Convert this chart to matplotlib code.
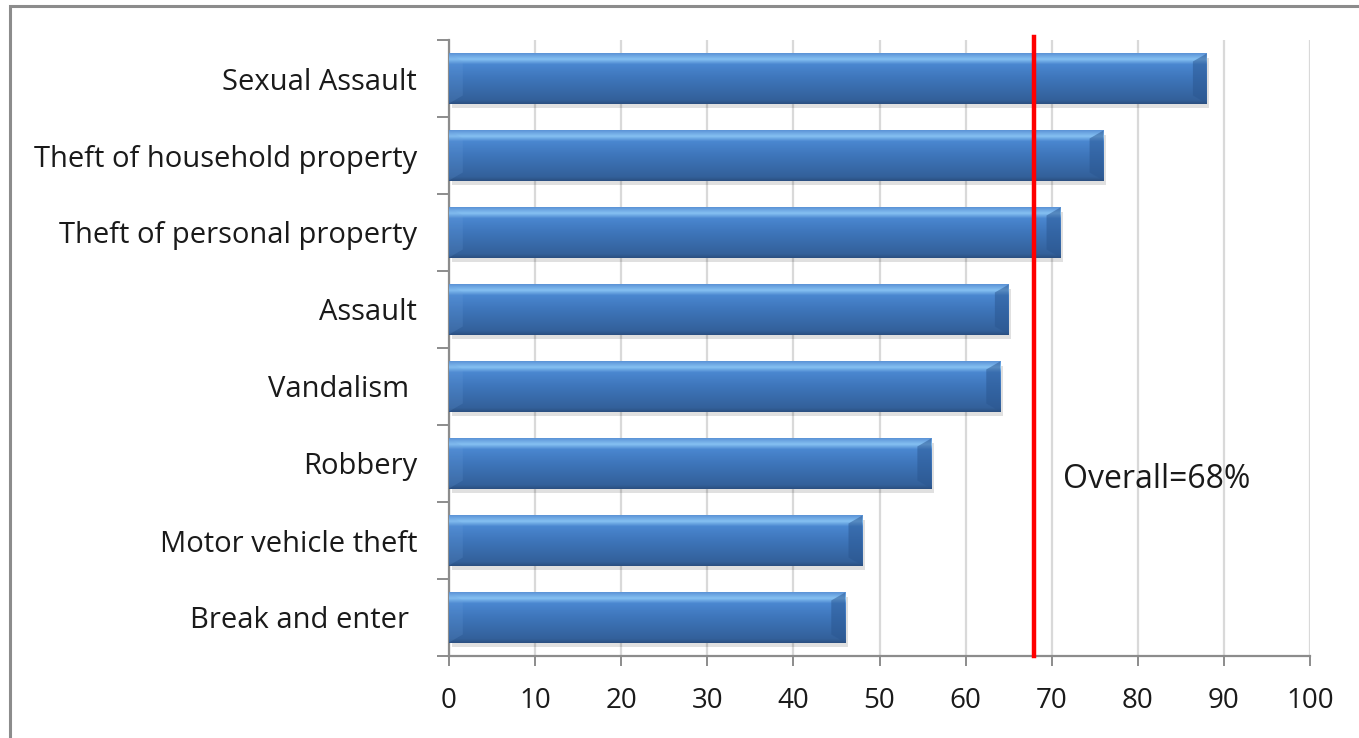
import numpy as np
import matplotlib.pyplot as plt
from matplotlib.patches import Rectangle, Polygon
from matplotlib.colors import LinearSegmentedColormap

# data, listed bottom to top
crimes = ["Break and enter ", "Motor vehicle theft", "Robbery", "Vandalism ",
          "Assault", "Theft of personal property", "Theft of household property",
          "Sexual Assault"]
percent = [46, 48, 56, 64, 65, 71, 76, 88]
overall = 68
xticks = [0, 10, 20, 30, 40, 50, 60, 70, 80, 90, 100]

plt.rcParams['font.family'] = ['Open Sans', 'DejaVu Sans']

fig = plt.figure(figsize=(13.59, 7.38), dpi=100)
ax = fig.add_axes([449/1359, 1 - 656/738, (1310 - 449)/1359, (656 - 40)/738])

# outer chart frame
fig.patches.append(Rectangle((10/1359, -0.05), 1.1, 1 - 6/738 + 0.05,
                             transform=fig.transFigure, fill=False,
                             edgecolor='#8c8c8c', linewidth=2.2))

ypos = np.arange(len(crimes))
bars = ax.barh(ypos, percent, height=0.65, color='#3d72b8', zorder=3)

# glossy vertical gradient on each bar
cmap = LinearSegmentedColormap.from_list('gloss', [
    (0.0, '#2b4f80'), (0.08, '#33609a'), (0.5, '#3e75ba'),
    (0.78, '#4a87d0'), (0.88, '#86c1f2'), (1.0, '#5a92d6')])
grad = np.linspace(0, 1, 256).reshape(-1, 1)
for b in bars:
    x0, y0, w, h = b.get_x(), b.get_y(), b.get_width(), b.get_height()
    x1, y1 = x0 + w, y0 + h
    # soft shadow
    ax.add_patch(Rectangle((x0 + 0.3, y0 - 0.06), w, h, color='#000000',
                           alpha=0.12, zorder=2, linewidth=0))
    im = ax.imshow(grad, cmap=cmap, aspect='auto', origin='lower',
                   extent=(x0, x1, y0, y1), zorder=4)
    im.set_clip_path(b)
    # bevelled end caps
    d, e = 1.6, 0.16 * h
    ax.add_patch(Polygon([(x1 - d, y0 + e), (x1, y0), (x1, y1), (x1 - d, y1 - e)],
                         closed=True, color='#2a5690', alpha=0.5, zorder=5, lw=0))
    ax.add_patch(Polygon([(x0, y0), (x0 + d, y0 + e), (x0 + d, y1 - e), (x0, y1)],
                         closed=True, color='#6fa3e0', alpha=0.18, zorder=5, lw=0))

ax.axvline(overall, ymin=0, ymax=1.005, color='#ff0000', linewidth=3.2,
           zorder=6, clip_on=False)
ax.text(71.3, 1.79, "Overall=68%", fontsize=23, color='#1a1a1a',
        va='center', ha='left', zorder=7)

ax.set_xlim(0, 100)
ax.set_ylim(-0.5, len(crimes) - 0.5)
ax.set_xticks(xticks)
ax.set_yticks(np.arange(-0.5, len(crimes), 1))
ax.set_yticklabels([])
ax.set_yticks(ypos, minor=True)
ax.set_yticklabels(crimes, minor=True)

ax.grid(axis='x', color='#d9d9d9', linewidth=1.6, zorder=0)
ax.set_axisbelow(True)
for s in ['top', 'right']:
    ax.spines[s].set_visible(False)
for s in ['left', 'bottom']:
    ax.spines[s].set_color('#8c8c8c')
    ax.spines[s].set_linewidth(1.6)

ax.tick_params(axis='x', length=7.5, width=1.4, color='#8c8c8c',
               labelsize=20, labelcolor='#1a1a1a', pad=15)
ax.tick_params(axis='y', which='major', length=8.5, width=1.4, color='#8c8c8c')
ax.tick_params(axis='y', which='minor', length=0, labelsize=21,
               labelcolor='#1a1a1a', pad=23)

fig.savefig('out.png', dpi=100)
